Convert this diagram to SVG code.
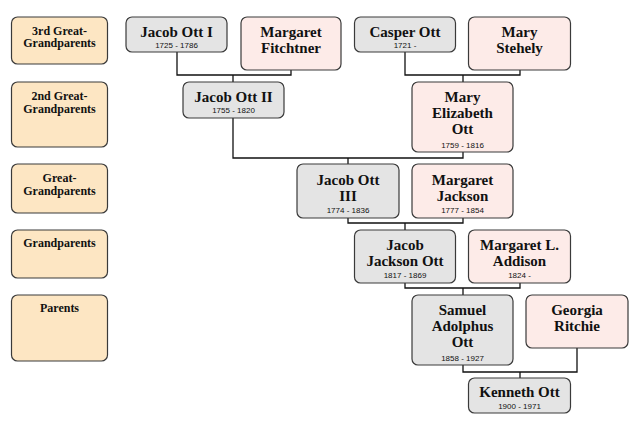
<svg xmlns="http://www.w3.org/2000/svg" width="640" height="427" viewBox="0 0 640 427">
<style>
.lab{fill:#fde6c3;stroke:#3a3a3a;stroke-width:1.2}
.m{fill:#e4e4e4;stroke:#3a3a3a;stroke-width:1.2}
.f{fill:#fdebe8;stroke:#3a3a3a;stroke-width:1.2}
.lt{font-family:"Liberation Serif",serif;font-weight:bold;font-size:12px;fill:#111;text-anchor:middle}
.n{font-family:"Liberation Serif",serif;font-weight:bold;font-size:15px;fill:#111;text-anchor:middle}
.d{font-family:"Liberation Sans",Arial,sans-serif;font-size:8px;fill:#111;text-anchor:middle}
.c{fill:none;stroke:#111;stroke-width:1.3}
</style>
<rect width="640" height="427" fill="#fff"/>
<g id="connectors">
<path class="c" d="M177 52V75H291V70M233 75V82"/>
<path class="c" d="M405 52V75H520V70M463 75V82"/>
<path class="c" d="M233 118V158H463V152M348 158V164"/>
<path class="c" d="M348 218V223H463V218M405 223V230"/>
<path class="c" d="M405 283V288H520V283M463 288V295"/>
<path class="c" d="M463 365V372H577V348M520 372V378"/>
</g>
<g id="label-3rd">
<rect class="lab" x="11.5" y="17" width="96" height="47" rx="6"/>
<text class="lt" x="59.5" y="34.5">3rd Great-</text>
<text class="lt" x="59.5" y="47">Grandparents</text>
</g>
<g id="label-2nd">
<rect class="lab" x="11.5" y="82" width="96" height="65" rx="6"/>
<text class="lt" x="59.5" y="100">2nd Great-</text>
<text class="lt" x="59.5" y="113">Grandparents</text>
</g>
<g id="label-great">
<rect class="lab" x="11.5" y="164" width="96" height="49" rx="6"/>
<text class="lt" x="59.5" y="182">Great-</text>
<text class="lt" x="59.5" y="195">Grandparents</text>
</g>
<g id="label-grand">
<rect class="lab" x="11.5" y="230" width="96" height="48" rx="6"/>
<text class="lt" x="59.5" y="247">Grandparents</text>
</g>
<g id="label-parents">
<rect class="lab" x="11.5" y="295" width="96" height="66" rx="6"/>
<text class="lt" x="59.5" y="312">Parents</text>
</g>
<g id="jacob-ott-i">
<rect class="m" x="126" y="17" width="101" height="35" rx="6"/>
<text class="n" x="176.5" y="37">Jacob Ott I</text>
<text class="d" x="176.5" y="47.5">1725 - 1786</text>
</g>
<g id="margaret-fitchtner">
<rect class="f" x="241" y="17" width="100" height="53" rx="6"/>
<text class="n" x="291" y="37">Margaret</text>
<text class="n" x="291" y="53">Fitchtner</text>
</g>
<g id="casper-ott">
<rect class="m" x="354.5" y="17" width="101" height="35" rx="6"/>
<text class="n" x="405" y="37">Casper Ott</text>
<text class="d" x="405" y="47.5">1721 -</text>
</g>
<g id="mary-stehely">
<rect class="f" x="468.5" y="17" width="102" height="53" rx="6"/>
<text class="n" x="519.5" y="37">Mary</text>
<text class="n" x="519.5" y="53">Stehely</text>
</g>
<g id="jacob-ott-ii">
<rect class="m" x="183" y="82" width="101" height="36" rx="6"/>
<text class="n" x="233.5" y="102">Jacob Ott II</text>
<text class="d" x="233.5" y="113">1755 - 1820</text>
</g>
<g id="mary-elizabeth-ott">
<rect class="f" x="412" y="82" width="101" height="70" rx="6"/>
<text class="n" x="462.5" y="102">Mary</text>
<text class="n" x="462.5" y="118">Elizabeth</text>
<text class="n" x="462.5" y="134">Ott</text>
<text class="d" x="462.5" y="147.5">1759 - 1816</text>
</g>
<g id="jacob-ott-iii">
<rect class="m" x="297" y="164" width="102" height="54" rx="6"/>
<text class="n" x="348" y="184.5">Jacob Ott</text>
<text class="n" x="348" y="200.5">III</text>
<text class="d" x="348" y="212.5">1774 - 1836</text>
</g>
<g id="margaret-jackson">
<rect class="f" x="412" y="164" width="101" height="54" rx="6"/>
<text class="n" x="462.5" y="184.5">Margaret</text>
<text class="n" x="462.5" y="200.5">Jackson</text>
<text class="d" x="462.5" y="212.5">1777 - 1854</text>
</g>
<g id="jacob-jackson-ott">
<rect class="m" x="354.5" y="230" width="101" height="53" rx="6"/>
<text class="n" x="405" y="250">Jacob</text>
<text class="n" x="405" y="266">Jackson Ott</text>
<text class="d" x="405" y="277.5">1817 - 1869</text>
</g>
<g id="margaret-l-addison">
<rect class="f" x="468.5" y="230" width="102" height="53" rx="6"/>
<text class="n" x="519.5" y="250">Margaret L.</text>
<text class="n" x="519.5" y="266">Addison</text>
<text class="d" x="519.5" y="277.5">1824 -</text>
</g>
<g id="samuel-adolphus-ott">
<rect class="m" x="412" y="295" width="101" height="70" rx="6"/>
<text class="n" x="462.5" y="315">Samuel</text>
<text class="n" x="462.5" y="331">Adolphus</text>
<text class="n" x="462.5" y="347">Ott</text>
<text class="d" x="462.5" y="360.5">1858 - 1927</text>
</g>
<g id="georgia-ritchie">
<rect class="f" x="526" y="295" width="102" height="53" rx="6"/>
<text class="n" x="577" y="315">Georgia</text>
<text class="n" x="577" y="331">Ritchie</text>
</g>
<g id="kenneth-ott">
<rect class="m" x="468.5" y="378" width="102" height="35" rx="6"/>
<text class="n" x="519.5" y="397">Kenneth Ott</text>
<text class="d" x="519.5" y="409">1900 - 1971</text>
</g>
</svg>
